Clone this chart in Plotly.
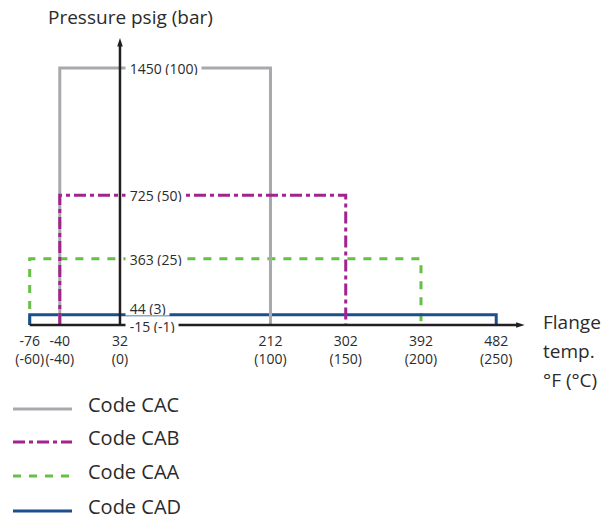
import plotly.graph_objects as go

# Temperature ticks on the flange-temperature axis
temps_f = [-76, -40, 32, 212, 302, 392, 482]
temps_c = [-60, -40, 0, 100, 150, 200, 250]

# Pressure levels marked on the vertical axis
pressure_psig = [1450, 725, 363, 44, -15]
pressure_bar = [100, 50, 25, 3, -1]

# Operating envelope of each code
codes = ["CAC", "CAB", "CAA", "CAD"]
min_temp_f = [-40, -40, -76, -76]
max_temp_f = [212, 302, 392, 482]
max_psig = [1450, 725, 363, 44]
base_psig = -15

styles = {
    "CAC": dict(color="#a7a9ac", dash="solid"),
    "CAB": dict(color="#a3238e", dash="12px,4px,4px,4px"),
    "CAA": dict(color="#66bf46", dash="8px,8px"),
    "CAD": dict(color="#1c4f8d", dash="solid"),
}
draw_order = ["CAA", "CAD", "CAC", "CAB"]

W, H = 602, 521
TXT = "#2b2b2b"
AXIS = "#231f20"
FONT = "Open Sans"
NBSP = "\u00a0"

# Extent of the two drawn axes (arrow tips)
x_axis_tip = 516
y_axis_tip = 1622

fig = go.Figure()

for code in draw_order:
    i = codes.index(code)
    fig.add_trace(go.Scatter(
        x=[min_temp_f[i], min_temp_f[i], max_temp_f[i], max_temp_f[i]],
        y=[base_psig, max_psig[i], max_psig[i], base_psig],
        mode="lines",
        line=dict(color=styles[code]["color"], width=3, dash=styles[code]["dash"]),
        name="Code " + code,
        showlegend=False,
        hoverinfo="skip",
    ))

# Axis lines
fig.add_trace(go.Scatter(
    x=[temps_f[0], x_axis_tip - 8], y=[base_psig, base_psig], mode="lines",
    line=dict(color=AXIS, width=2.5), showlegend=False, hoverinfo="skip",
))
fig.add_trace(go.Scatter(
    x=[32, 32], y=[base_psig, y_axis_tip - 40], mode="lines",
    line=dict(color=AXIS, width=2.5), showlegend=False, hoverinfo="skip",
))
# Arrow heads
fig.add_trace(go.Scatter(
    x=[x_axis_tip, 32], y=[base_psig, y_axis_tip], mode="markers",
    marker=dict(symbol="arrow", size=9, angle=[90, 0], color=AXIS,
                line=dict(width=0)),
    showlegend=False, hoverinfo="skip",
))

annotations = []

# Pressure labels sitting on the vertical axis (lowest first so the
# label just above the baseline is drawn on top)
label_shift = {44: 7, -15: -1}
for p, b in reversed(list(zip(pressure_psig, pressure_bar))):
    annotations.append(dict(
        x=32, y=p, xref="x", yref="y", xanchor="left", yanchor="middle",
        xshift=5, yshift=label_shift.get(p, 0),
        text=f"{NBSP}{p} ({b}){NBSP}",
        showarrow=False, bgcolor="white", borderpad=0, height=14,
        font=dict(family=FONT, size=14, color=TXT),
    ))

annotations.append(dict(
    x=46 / W, y=1 - 17 / H, xref="paper", yref="paper", xanchor="left",
    yanchor="middle", text="Pressure psig (bar)", showarrow=False,
    font=dict(family=FONT, size=19, color=TXT),
))
for line_text, cy in zip(["Flange", "temp.", "°F (°C)"], [322, 351, 380]):
    annotations.append(dict(
        x=541 / W, y=1 - cy / H, xref="paper", yref="paper", xanchor="left",
        yanchor="middle", text=line_text, showarrow=False,
        font=dict(family=FONT, size=19, color=TXT),
    ))

# Legend keys
shapes = []
legend_y = [409, 442, 476, 511]
for code, ly in zip(codes, legend_y):
    shapes.append(dict(
        type="line", xref="paper", yref="paper",
        x0=13 / W, x1=72 / W, y0=1 - ly / H, y1=1 - ly / H,
        line=dict(color=styles[code]["color"], width=3, dash=styles[code]["dash"]),
    ))
    annotations.append(dict(
        x=86 / W, y=1 - (ly - 5) / H, xref="paper", yref="paper",
        xanchor="left", yanchor="middle", text="Code " + code,
        showarrow=False, font=dict(family=FONT, size=20, color=TXT),
    ))

fig.update_layout(
    width=W, height=H,
    margin=dict(l=0, r=0, t=0, b=0),
    paper_bgcolor="white", plot_bgcolor="white",
    showlegend=False,
    annotations=annotations,
    shapes=shapes,
    xaxis=dict(
        range=[-111.5, 608.5], domain=[0, 1],
        anchor="free", position=1 - 325 / H,
        tickvals=temps_f,
        ticktext=[f"{f}<br>({c})" for f, c in zip(temps_f, temps_c)],
        tickangle=0,
        ticks="", showgrid=False, zeroline=False, showline=False,
        ticklabelstandoff=6,
        tickfont=dict(family=FONT, size=14, color=TXT),
    ),
    yaxis=dict(
        range=[-1132, 1838], domain=[0, 1],
        visible=False, showgrid=False, zeroline=False,
    ),
)

fig.write_html("out.html")
